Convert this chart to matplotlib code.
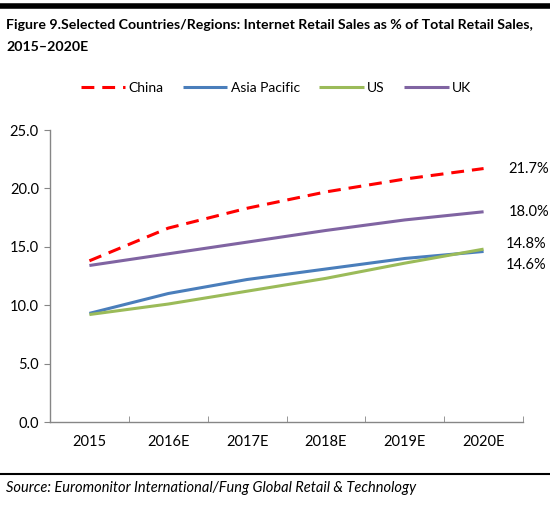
import matplotlib.pyplot as plt
from matplotlib.lines import Line2D

# data
years = ['2015', '2016E', '2017E', '2018E', '2019E', '2020E']
china = [13.8, 16.6, 18.3, 19.7, 20.8, 21.7]
asia_pacific = [9.3, 11.0, 12.2, 13.1, 14.0, 14.6]
us = [9.2, 10.1, 11.2, 12.3, 13.6, 14.8]
uk = [13.4, 14.4, 15.4, 16.4, 17.3, 18.0]
end_labels = ['21.7%', '14.6%', '14.8%', '18.0%']

plt.rcParams['font.family'] = ['Lato', 'DejaVu Sans']

fig = plt.figure(figsize=(5.5, 5.07), dpi=100)
W, H = 550.0, 507.0

# axes box in pixel coords: x 50..523, y 130..422 (top-down)
ax = fig.add_axes([50 / W, 1 - 422 / H, 473 / W, 292 / H])

x = list(range(len(years)))
series = [
    ('China', china, '#FF0000', (0, (4.2, 2.6))),
    ('Asia Pacific', asia_pacific, '#4A7EBB', '-'),
    ('US', us, '#9BBB59', '-'),
    ('UK', uk, '#8064A2', '-'),
]
handles = []
for name, vals, col, ls in series:
    ln, = ax.plot(x, vals, color=col, lw=2.2, linestyle=ls, solid_capstyle='butt')
    handles.append(ln)

ax.set_xlim(-0.5, len(years) - 0.5)
ax.set_ylim(0, 25)
ax.set_yticks([0, 5, 10, 15, 20, 25])
ax.set_yticklabels(['%.1f' % v for v in [0, 5, 10, 15, 20, 25]])
ax.set_xticks(x)
ax.set_xticklabels(years)
ax.set_xticks([i - 0.5 for i in range(len(years) + 1)], minor=True)
ax.tick_params(axis='x', which='major', length=0, pad=9, labelsize=10.5)
ax.tick_params(axis='x', which='minor', length=4, color='#868686', direction='in')
ax.tick_params(axis='y', length=4, color='#868686', direction='out', labelsize=10.5, pad=4)
for s in ['top', 'right']:
    ax.spines[s].set_visible(False)
for s in ['left', 'bottom']:
    ax.spines[s].set_color('#868686')
    ax.spines[s].set_linewidth(1)

# end-of-line value labels (offsets in points; 1pt = 1.39px at 100 dpi)
last = len(years) - 1
ax.annotate(end_labels[0], (last, china[-1]), xytext=(18, 0), textcoords='offset points',
            va='center', fontsize=10.5)
ax.annotate(end_labels[3], (last, uk[-1]), xytext=(18, 0), textcoords='offset points',
            va='center', fontsize=10.5)
ax.annotate(end_labels[2], (last, us[-1]), xytext=(16, 4), textcoords='offset points',
            va='center', fontsize=10.5)
ax.annotate(end_labels[1], (last, asia_pacific[-1]), xytext=(16, -10), textcoords='offset points',
            va='center', fontsize=10.5)

# legend on top
fig.legend(handles, [s[0] for s in series], loc='center', bbox_to_anchor=(276 / W, 1 - 88 / H),
           ncol=4, frameon=False, fontsize=10, handlelength=3.2, handletextpad=0.25,
           columnspacing=1.4)

# header bar, title, footer
fig.add_artist(Line2D([0, 1], [1 - 6 / H, 1 - 6 / H], color='black', lw=4))
fig.text(6 / W, 1 - 25 / H, 'Figure 9.Selected Countries/Regions: Internet Retail Sales as % of Total Retail Sales,',
         fontsize=10.2, fontweight='bold', va='center', ha='left')
fig.text(6 / W, 1 - 47 / H, '2015\u20132020E', fontsize=10.2, fontweight='bold', va='center', ha='left')
fig.add_artist(Line2D([0, 1], [1 - 474 / H, 1 - 474 / H], color='black', lw=1.5))
fig.text(6 / W, 1 - 488 / H, 'Source: Euromonitor International/Fung Global Retail & Technology',
         fontsize=10.5, style='italic', va='center', ha='left')

fig.savefig('out.png', dpi=100)
